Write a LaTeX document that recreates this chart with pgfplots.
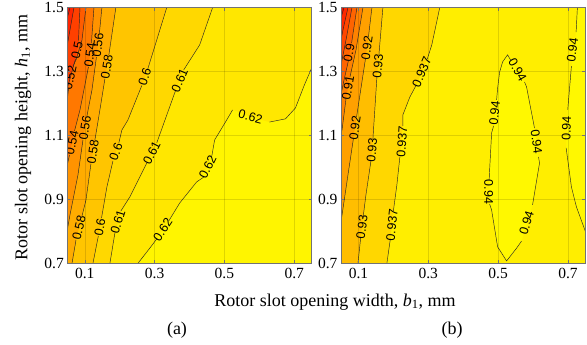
\documentclass[border=0pt]{standalone}
\usepackage{fontspec}
\setmainfont{Liberation Serif}
\newfontfamily\clabfont{Liberation Sans}
\usepackage{pgfplots}
\pgfplotsset{compat=1.18}

\definecolor{La}{RGB}{255,245,0}
\definecolor{Lb}{RGB}{255,231,0}
\definecolor{Lc}{RGB}{255,216,0}
\definecolor{Ld}{RGB}{255,197,0}
\definecolor{Le}{RGB}{255,172,0}
\definecolor{Lf}{RGB}{255,147,0}
\definecolor{Lg}{RGB}{255,120,0}
\definecolor{Lh}{RGB}{255,92,0}
\definecolor{Li}{RGB}{255,64,0}
\definecolor{Lj}{RGB}{255,36,0}
\definecolor{Lk}{RGB}{255,10,0}

\definecolor{Ra}{RGB}{255,248,0}
\definecolor{Rb}{RGB}{255,238,0}
\definecolor{Rc}{RGB}{255,215,0}
\definecolor{Rd}{RGB}{255,190,0}
\definecolor{Re}{RGB}{255,160,0}
\definecolor{Rf}{RGB}{255,130,0}
\definecolor{Rg}{RGB}{255,100,0}
\definecolor{Rh}{RGB}{255,70,0}
\definecolor{Ri}{RGB}{255,40,0}
\definecolor{Rj}{RGB}{255,10,0}

\tikzset{clab/.style={font=\clabfont\fontsize{12.5}{12.5}\selectfont, inner sep=0pt, text=black}}
\pgfplotsset{
  cplot/.style={
    scale only axis, width=244.4pt, height=256pt,
    xmin=0.05, xmax=0.75, ymin=0.7, ymax=1.5,
    xtick={0.1,0.3,0.5,0.7}, ytick={0.7,0.9,1.1,1.3,1.5},
    grid=major, major grid style={black, opacity=0.13, line width=0.4pt},
    axis on top, axis line style={black!55, line width=0.5pt},
    tick style={black!55}, major tick length=3pt,
    tick label style={font=\fontsize{15.5}{15.5}\selectfont},
    xticklabel style={yshift=-1pt},
    /pgf/number format/assume math mode=true,
    /pgf/number format/fixed,
  },
  cfill/.style={draw=none, fill=#1, unbounded coords=discard, forget plot},
  cline/.style={black!85, line width=0.45pt, unbounded coords=jump, forget plot, mark=none},
}

\begin{document}
\begin{tikzpicture}
\useasboundingbox (0,0) rectangle (587pt,345pt);

% ---------------- (a) ----------------
\begin{axis}[cplot, at={(67.3pt,81.5pt)}, anchor=south west]
\addplot[cfill=La] coordinates {(0.05,0.7) (0.75,0.7) (0.75,1.5) (0.05,1.5)};
\addplot[cfill=Lb] coordinates {(0.75,1.311) (0.7291,1.258) (0.7034,1.186) (0.6749,1.152) (0.6291,1.142) (0.5749,1.158) (0.5434,1.173) (0.5234,1.18) (0.5063,1.148) (0.472,1.086) (0.452,1.002) (0.4206,0.955) (0.372,0.889) (0.3234,0.805) (0.2863,0.748) (0.252,0.7) (0.05,0.7) (0.05,1.5) (0.75,1.5)};
\addplot[cfill=Lc] coordinates {(0.4663,1.5) (0.4291,1.383) (0.3834,1.305) (0.3606,1.242) (0.3063,1.077) (0.2777,1.014) (0.2291,0.908) (0.2034,0.864) (0.1863,0.795) (0.172,0.7) (0.05,0.7) (0.05,1.5)};
\addplot[cfill=Ld] coordinates {(0.3349,1.5) (0.2806,1.308) (0.2634,1.256) (0.2234,1.148) (0.2063,1.117) (0.1977,1.077) (0.1806,1.020) (0.1634,0.939) (0.148,0.842) (0.1389,0.786) (0.1234,0.7) (0.05,0.7) (0.05,1.5)};
\addplot[cfill=Le] coordinates {(0.1891,1.5) (0.1691,1.352) (0.1577,1.277) (0.1434,1.18) (0.1291,1.086) (0.1177,1.011) (0.1034,0.898) (0.092,0.848) (0.0749,0.773) (0.0634,0.7) (0.05,0.7) (0.05,1.5)};
\addplot[cfill=Lf] coordinates {(0.1491,1.5) (0.142,1.420) (0.1334,1.345) (0.1206,1.242) (0.1063,1.161) (0.0949,1.086) (0.0806,0.977) (0.0577,0.852) (0.05,0.805) (0.05,1.5)};
\addplot[cfill=Lg] coordinates {(0.1263,1.5) (0.1191,1.389) (0.1106,1.314) (0.0863,1.18) (0.0706,1.114) (0.0563,1.039) (0.05,1.008) (0.05,1.5)};
\addplot[cfill=Lh] coordinates {(0.1034,1.5) (0.092,1.398) (0.0749,1.336) (0.0663,1.317) (0.0534,1.245) (0.05,1.211) (0.05,1.5)};
\addplot[cfill=Li] coordinates {(0.0863,1.5) (0.082,1.395) (0.0734,1.339) (0.0606,1.289) (0.05,1.248) (0.05,1.5)};
\addplot[cfill=Lj] coordinates {(0.0691,1.5) (0.0577,1.43) (0.05,1.383) (0.05,1.5)};
\addplot[cfill=Lk] coordinates {(0.0577,1.5) (0.05,1.467) (0.05,1.5)};

\addplot[cline] coordinates {(0.75,1.311) (0.7291,1.258) (0.7034,1.186) (0.6749,1.152) (0.6291,1.142) (nan,nan) (0.5234,1.18) (0.5063,1.148) (0.472,1.086) (0.4634,1.033) (nan,nan) (0.4406,0.970) (0.4206,0.955) (0.372,0.889) (0.3406,0.833) (nan,nan) (0.3063,0.777) (0.2863,0.748) (0.252,0.7)};
\addplot[cline] coordinates {(0.4663,1.5) (0.4291,1.383) (0.3834,1.305) (nan,nan) (0.3606,1.242) (0.3063,1.077) (nan,nan) (0.2777,1.014) (0.2291,0.908) (0.2034,0.864) (nan,nan) (0.1863,0.795) (0.172,0.7)};
\addplot[cline] coordinates {(0.3349,1.5) (0.2806,1.308) (nan,nan) (0.2634,1.256) (0.2234,1.148) (0.2063,1.117) (0.1977,1.077) (nan,nan) (0.1806,1.020) (0.1634,0.939) (0.148,0.842) (nan,nan) (0.1389,0.786) (0.1234,0.7)};
\addplot[cline] coordinates {(0.1891,1.5) (0.1691,1.352) (nan,nan) (0.1577,1.277) (0.1434,1.18) (0.1291,1.086) (nan,nan) (0.1177,1.011) (0.1034,0.898) (0.092,0.848) (nan,nan) (0.0749,0.773) (0.0634,0.7)};
\addplot[cline] coordinates {(0.1491,1.5) (0.142,1.420) (nan,nan) (0.1334,1.345) (0.1206,1.242) (0.1063,1.161) (nan,nan) (0.0949,1.086) (0.0806,0.977) (0.0577,0.852) (0.05,0.805)};
\addplot[cline] coordinates {(0.1263,1.5) (0.1191,1.389) (nan,nan) (0.1106,1.314) (0.0863,1.18) (0.0706,1.114) (nan,nan) (0.0563,1.039) (0.05,1.008)};
\addplot[cline] coordinates {(0.1034,1.5) (0.092,1.398) (0.0749,1.336) (0.0663,1.317) (nan,nan) (0.0534,1.245) (0.05,1.211)};
\addplot[cline] coordinates {(0.0863,1.5) (0.082,1.395) (nan,nan) (0.0734,1.339) (0.0606,1.289) (0.05,1.248)};
\addplot[cline] coordinates {(0.0691,1.5) (0.0577,1.43) (0.05,1.383)};
\addplot[cline] coordinates {(0.0577,1.5) (0.05,1.467)};

\node[clab, rotate=78] at (axis cs:0.0777,1.367) {0.5};
\node[clab, rotate=78] at (axis cs:0.0577,1.280) {0.52};
\node[clab, rotate=82] at (axis cs:0.1149,1.352) {0.54};
\node[clab, rotate=78] at (axis cs:0.0634,1.077) {0.54};
\node[clab, rotate=83] at (axis cs:0.1377,1.383) {0.56};
\node[clab, rotate=81] at (axis cs:0.1006,1.123) {0.56};
\node[clab, rotate=81] at (axis cs:0.1634,1.314) {0.58};
\node[clab, rotate=81] at (axis cs:0.1234,1.048) {0.58};
\node[clab, rotate=77] at (axis cs:0.0834,0.811) {0.58};
\node[clab, rotate=72] at (axis cs:0.272,1.283) {0.6};
\node[clab, rotate=70] at (axis cs:0.1891,1.048) {0.6};
\node[clab, rotate=80] at (axis cs:0.1434,0.814) {0.6};
\node[clab, rotate=67] at (axis cs:0.372,1.273) {0.61};
\node[clab, rotate=63] at (axis cs:0.292,1.045) {0.61};
\node[clab, rotate=73] at (axis cs:0.1949,0.830) {0.61};
\node[clab, rotate=-15] at (axis cs:0.5749,1.158) {0.62};
\node[clab, rotate=64] at (axis cs:0.452,1.002) {0.62};
\node[clab, rotate=56] at (axis cs:0.3234,0.805) {0.62};
\end{axis}

% ---------------- (b) ----------------
\begin{axis}[cplot, at={(341pt,81.5pt)}, anchor=south west]
\addplot[cfill=Rb] coordinates {(0.05,0.7) (0.75,0.7) (0.75,1.5) (0.05,1.5)};
\addplot[cfill=Ra] coordinates {(0.5271,1.352) (0.5357,1.336) (0.5757,1.267) (0.5814,1.252) (0.6043,1.123) (0.6157,1.033) (0.6186,1.014) (0.5986,0.883) (0.5671,0.770) (0.5529,0.748) (0.5243,0.708) (0.4986,0.752) (0.4814,0.867) (0.4757,0.886) (0.4743,0.961) (0.4757,0.992) (0.4814,1.108) (0.4871,1.130) (0.4957,1.211) (0.4986,1.248) (0.5043,1.298) (0.5129,1.330)};
\addplot[cfill=Ra] coordinates {(0.7271,1.5) (0.7234,1.423) (0.71,1.317) (0.6994,1.180) (0.6949,1.061) (0.71,0.939) (0.7243,0.877) (0.75,0.80) (0.75,1.5)};
\addplot[cfill=Rc] coordinates {(0.3329,1.5) (0.31,1.383) (0.2971,1.339) (0.2657,1.258) (0.2471,1.220) (0.2271,1.164) (0.2271,1.130) (0.2186,1.033) (0.21,0.945) (0.2,0.864) (0.1914,0.777) (0.1814,0.7) (0.05,0.7) (0.05,1.5)};
\addplot[cfill=Rd] coordinates {(0.17,1.5) (0.1586,1.352) (0.1529,1.283) (0.1414,1.089) (0.1357,1.020) (0.1214,0.914) (0.1137,0.848) (0.1063,0.780) (0.0986,0.7) (0.05,0.7) (0.05,1.5)};
\addplot[cfill=Re] coordinates {(0.1386,1.5) (0.1286,1.408) (0.12,1.339) (0.1043,1.227) (0.0946,1.158) (0.0854,1.089) (0.07,0.977) (0.05,0.830) (0.05,1.5)};
\addplot[cfill=Rf] coordinates {(0.1129,1.5) (0.0929,1.367) (0.0757,1.283) (0.0643,1.214) (0.0529,1.117) (0.05,1.102) (0.05,1.5)};
\addplot[cfill=Rg] coordinates {(0.0957,1.5) (0.0803,1.389) (0.0711,1.333) (0.0586,1.273) (0.05,1.227) (0.05,1.5)};
\addplot[cfill=Rh] coordinates {(0.0814,1.5) (0.0643,1.398) (0.05,1.32) (0.05,1.5)};
\addplot[cfill=Ri] coordinates {(0.07,1.5) (0.0557,1.43) (0.05,1.398) (0.05,1.5)};
\addplot[cfill=Rj] coordinates {(0.0586,1.5) (0.05,1.467) (0.05,1.5)};

\addplot[cline] coordinates {(0.3329,1.5) (0.31,1.383) (0.2971,1.339) (nan,nan) (0.2657,1.258) (0.2471,1.220) (0.2271,1.164) (0.2271,1.130) (nan,nan) (0.2186,1.033) (0.21,0.945) (0.2,0.864) (nan,nan) (0.1914,0.777) (0.1814,0.7)};
\addplot[cline] coordinates {(0.17,1.5) (0.1586,1.352) (nan,nan) (0.1529,1.283) (0.1414,1.089) (nan,nan) (0.1357,1.020) (0.1214,0.914) (0.1137,0.848) (nan,nan) (0.1063,0.780) (0.0986,0.7)};
\addplot[cline] coordinates {(0.1386,1.5) (0.1286,1.408) (nan,nan) (0.12,1.339) (0.1043,1.227) (0.0946,1.158) (nan,nan) (0.0854,1.089) (0.07,0.977) (0.05,0.830)};
\addplot[cline] coordinates {(0.1129,1.5) (0.0929,1.367) (0.0757,1.283) (nan,nan) (0.0643,1.214) (0.0529,1.117) (0.05,1.102)};
\addplot[cline] coordinates {(0.0957,1.5) (0.0803,1.389) (nan,nan) (0.0711,1.333) (0.0586,1.273) (0.05,1.227)};
\addplot[cline] coordinates {(0.0814,1.5) (0.0643,1.398) (0.05,1.32)};
\addplot[cline] coordinates {(0.07,1.5) (0.0557,1.43) (0.05,1.398)};
\addplot[cline] coordinates {(0.0586,1.5) (0.05,1.467)};
\addplot[cline] coordinates {(0.5357,1.336) (nan,nan) (0.5757,1.267) (0.5814,1.252) (0.6043,1.123) (nan,nan) (0.6157,1.033) (0.6186,1.014) (0.5986,0.883) (nan,nan) (0.5671,0.770) (0.5529,0.748) (0.5243,0.708) (0.4986,0.752) (0.4814,0.867) (0.4757,0.886) (nan,nan) (0.4743,0.961) (0.4757,0.992) (0.4814,1.108) (0.4871,1.130) (nan,nan) (0.4957,1.211) (0.4986,1.248) (0.5043,1.298) (0.5129,1.330) (0.5271,1.352) (0.5357,1.336)};
\addplot[cline] coordinates {(0.7271,1.5) (0.7234,1.423) (nan,nan) (0.71,1.317) (0.6994,1.180) (nan,nan) (0.6949,1.061) (0.71,0.939) (0.7243,0.877) (0.75,0.80)};

\node[clab, rotate=80] at (axis cs:0.0729,1.358) {0.9};
\node[clab, rotate=80] at (axis cs:0.07,1.248) {0.91};
\node[clab, rotate=82] at (axis cs:0.1243,1.373) {0.92};
\node[clab, rotate=82] at (axis cs:0.09,1.123) {0.92};
\node[clab, rotate=85] at (axis cs:0.1557,1.317) {0.93};
\node[clab, rotate=85] at (axis cs:0.1386,1.055) {0.93};
\node[clab, rotate=83] at (axis cs:0.11,0.814) {0.93};
\node[clab, rotate=67] at (axis cs:0.2814,1.298) {0.937};
\node[clab, rotate=86] at (axis cs:0.2243,1.081) {0.937};
\node[clab, rotate=84] at (axis cs:0.1957,0.820) {0.937};
\node[clab, rotate=-60] at (axis cs:0.5557,1.305) {0.94};
\node[clab, rotate=-82] at (axis cs:0.61,1.080) {0.94};
\node[clab, rotate=73] at (axis cs:0.5814,0.827) {0.94};
\node[clab, rotate=84] at (axis cs:0.49,1.170) {0.94};
\node[clab, rotate=-90] at (axis cs:0.4729,0.923) {0.94};
\node[clab, rotate=82] at (axis cs:0.7129,1.367) {0.94};
\node[clab, rotate=88] at (axis cs:0.6957,1.123) {0.94};
\end{axis}

\node[rotate=90, font=\fontsize{18}{18}\selectfont] at (23pt,207.5pt) {Rotor slot opening height, \textit{h}\textsubscript{1}, mm};
\node[font=\fontsize{18}{18}\selectfont] at (335pt,43pt) {Rotor slot opening width, \textit{b}\textsubscript{1}, mm};
\node[font=\fontsize{18}{18}\selectfont] at (177pt,15pt) {(a)};
\node[font=\fontsize{18}{18}\selectfont] at (452pt,15pt) {(b)};
\end{tikzpicture}
\end{document}
